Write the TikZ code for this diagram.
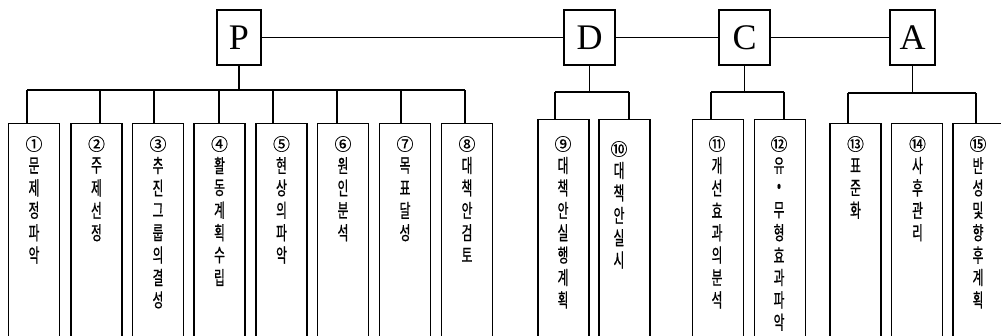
\documentclass[tikz,border=0pt]{standalone}
\usepackage{fontspec}
\setmainfont{Liberation Serif}
\newfontfamily\krfont[FakeStretch=0.62,FakeBold=0.6]{Noto Sans CJK KR}
\newfontfamily\numfont[FakeBold=0.4]{Noto Sans CJK KR}
\newcommand\vstack[5]{%
  \node[knum] (n#1) at (#2,#3) {#4};
  \foreach \c [count=\i] in {#5} \node[kchar] (t#1-\i) at (#2,{#3+21.5+22.4*(\i-1)}) {\c};
}
\begin{document}
\begin{tikzpicture}[x=1pt,y=-1pt,line width=1.1pt,
  phase/.style={draw, minimum height=55pt, inner sep=0pt, font=\fontsize{36}{36}\selectfont},
  item/.style={draw, anchor=north, minimum width=51pt, minimum height=260pt, inner sep=0pt},
  kchar/.style={inner sep=0pt, font=\krfont\fontsize{19}{19}\selectfont},
  knum/.style={inner sep=0pt, font=\numfont\fontsize{17}{17}\selectfont},
  link/.style={line width=1.1pt}]
\useasboundingbox (0,0) rectangle (1001,335);
\clip (0,0) rectangle (1001,335);
\fill[white] (0,0) rectangle (1001,335);
% phase boxes
\node[phase, minimum width=44pt] (P) at (239,37.5) {P};
\node[phase, minimum width=51pt] (D) at (589.5,37.5) {D};
\node[phase, minimum width=51pt] (C) at (744.5,37.5) {C};
\node[phase, minimum width=45pt] (A) at (912.5,37.5) {A};
\draw[link] (P.east) -- (D.west);
\draw[link] (D.east) -- (C.west);
\draw[link] (C.east) -- (A.west);
% item boxes
\node[item] (b1) at (34,123) {};
\node[item] (b2) at (96.5,123) {};
\node[item] (b3) at (158,123) {};
\node[item] (b4) at (219.5,123) {};
\node[item] (b5) at (281.5,123) {};
\node[item] (b6) at (343,123) {};
\node[item] (b7) at (405,123) {};
\node[item] (b8) at (467,123) {};
\node[item] (b9) at (563.5,119) {};
\node[item] (b10) at (624.5,119) {};
\node[item] (b11) at (718,119) {};
\node[item] (b12) at (780,119) {};
\node[item] (b13) at (855.5,123) {};
\node[item] (b14) at (917,123) {};
\node[item] (b15) at (978.5,123) {};
% P tree
\draw[link] (P.south) -- (P.south |- 0,90);
\draw[link] (27,90) -- (465,90);
\foreach \x/\n in {27/1,100/2,154/3,219/4,273/5,337/6,401/7,465/8}
  \draw[link] (\x,90) -- (\x,90 |- b\n.north);
% D tree
\draw[link] (D.south) -- (D.south |- 0,92);
\draw[link] (555,92) -- (629,92);
\foreach \x/\n in {555/9,629/10}
  \draw[link] (\x,92) -- (\x,92 |- b\n.north);
% C tree
\draw[link] (C.south) -- (C.south |- 0,92);
\draw[link] (711,92) -- (784,92);
\foreach \x/\n in {711/11,784/12}
  \draw[link] (\x,92) -- (\x,92 |- b\n.north);
% A tree
\draw[link] (A.south) -- (A.south |- 0,93);
\draw[link] (848,93) -- (976,93);
\foreach \x/\n in {848/13,976/15}
  \draw[link] (\x,93) -- (\x,93 |- b\n.north);
% labels
\vstack{1}{34}{144}{①}{문,제,정,파,악}
\vstack{2}{96.5}{144}{②}{주,제,선,정}
\vstack{3}{158}{144}{③}{추,진,그,룹,의,결,성}
\vstack{4}{219.5}{144}{④}{활,동,계,획,수,립}
\vstack{5}{281.5}{144}{⑤}{현,상,의,파,악}
\vstack{6}{343}{144}{⑥}{원,인,분,석}
\vstack{7}{405}{144}{⑦}{목,표,달,성}
\vstack{8}{467}{144}{⑧}{대,책,안,검,토}
\vstack{9}{563}{144}{⑨}{대,책,안,실,행,계,획}
\vstack{10}{619}{149}{⑩}{대,책,안,실,시}
\vstack{11}{717}{144}{⑪}{개,선,효,과,의,분,석}
\vstack{12}{779}{144}{⑫}{유,•,무,형,효,과,파,악}
\vstack{13}{855.5}{144}{⑬}{표,준,화}
\vstack{14}{917.5}{144}{⑭}{사,후,관,리}
\vstack{15}{978}{144}{⑮}{반,성,및,향,후,계,획}
\end{tikzpicture}
\end{document}
